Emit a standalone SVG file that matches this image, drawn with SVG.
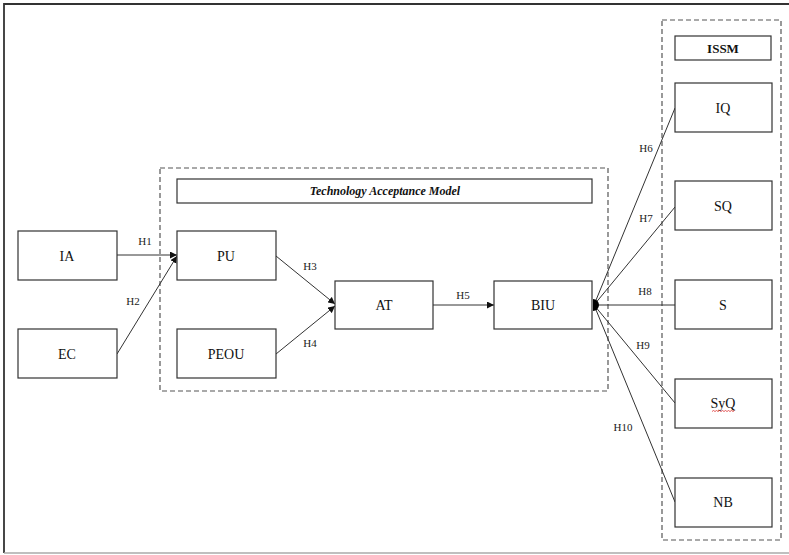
<svg xmlns="http://www.w3.org/2000/svg" width="789" height="555" viewBox="0 0 789 555">
<style>
.box{fill:#fff;stroke:#333;stroke-width:1.2}
.dash{fill:none;stroke:#555;stroke-width:1.2;stroke-dasharray:5,3}
text{font-family:'Liberation Serif','Times New Roman','DejaVu Serif',serif}
.lbl{font-size:14px;fill:#111;text-anchor:middle;dominant-baseline:central}
.h{font-size:11px;fill:#222;text-anchor:middle;dominant-baseline:central}
.ln{fill:none;stroke:#333;stroke-width:1}
</style>
<defs>
<marker id="arr" viewBox="0 0 10 10" refX="10" refY="5" markerWidth="7" markerHeight="7" orient="auto" markerUnits="userSpaceOnUse"><path d="M0,0 L10,5 L0,10 z" fill="#111"/></marker>
</defs>
<rect width="789" height="555" fill="#fff"/>
<path d="M4,553 L4,4 L789,4" fill="none" stroke="#333" stroke-width="1.8"/>
<line x1="4" y1="553" x2="789" y2="553" stroke="#aaa" stroke-width="1.5"/>

<g id="tam-group">
<rect class="dash" x="160" y="168" width="448" height="223"/>
<rect class="box" x="177" y="179" width="415" height="24"/>
<text class="lbl" x="385" y="191" font-family="Liberation Serif, serif" font-weight="bold" font-style="italic" style="font-size:12px">Technology Acceptance Model</text>
</g>
<g id="issm-group">
<rect class="dash" x="662" y="20" width="119" height="520"/>
<rect class="box" x="675" y="36" width="96" height="24"/>
<text class="lbl" x="723" y="48" font-family="Liberation Serif, serif" font-weight="bold" style="font-size:13px">ISSM</text>
</g>

<g id="connectors">
<line class="ln" x1="117" y1="255" x2="177" y2="255" marker-end="url(#arr)"/>
<line class="ln" x1="117" y1="354" x2="177" y2="256" marker-end="url(#arr)"/>
<line class="ln" x1="276" y1="256" x2="335" y2="304" marker-end="url(#arr)"/>
<line class="ln" x1="276" y1="354" x2="335" y2="306" marker-end="url(#arr)"/>
<line class="ln" x1="433" y1="305" x2="494" y2="305" marker-end="url(#arr)"/>
<line class="ln" x1="594" y1="305" x2="675" y2="108"/>
<line class="ln" x1="594" y1="305" x2="675" y2="207"/>
<line class="ln" x1="594" y1="305" x2="675" y2="305"/>
<line class="ln" x1="594" y1="305" x2="675" y2="403"/>
<line class="ln" x1="594" y1="305" x2="675" y2="502"/>
<path d="M593,299 A6,6 0 0 1 593,311 Z" fill="#000"/>
<text class="h" x="145" y="241">H1</text>
<text class="h" x="133" y="301">H2</text>
<text class="h" x="310" y="266">H3</text>
<text class="h" x="310" y="343">H4</text>
<text class="h" x="463" y="295">H5</text>
<text class="h" x="646" y="148">H6</text>
<text class="h" x="646" y="218">H7</text>
<text class="h" x="645" y="291">H8</text>
<text class="h" x="643" y="345">H9</text>
<text class="h" x="623" y="427">H10</text>
</g>

<g id="IA"><rect class="box" x="18" y="231" width="99" height="49"/><text class="lbl" x="67" y="256">IA</text></g>
<g id="EC"><rect class="box" x="18" y="329" width="99" height="49"/><text class="lbl" x="67" y="354">EC</text></g>
<g id="PU"><rect class="box" x="177" y="231" width="99" height="49"/><text class="lbl" x="226" y="256">PU</text></g>
<g id="PEOU"><rect class="box" x="177" y="329" width="99" height="49"/><text class="lbl" x="226" y="354">PEOU</text></g>
<g id="AT"><rect class="box" x="335" y="281" width="98" height="48"/><text class="lbl" x="384" y="305">AT</text></g>
<g id="BIU"><rect class="box" x="494" y="281" width="98" height="48"/><text class="lbl" x="543" y="305">BIU</text></g>
<g id="IQ"><rect class="box" x="675" y="83" width="97" height="49"/><text class="lbl" x="723" y="108">IQ</text></g>
<g id="SQ"><rect class="box" x="675" y="181" width="97" height="49"/><text class="lbl" x="723" y="206">SQ</text></g>
<g id="S"><rect class="box" x="675" y="280" width="97" height="49"/><text class="lbl" x="723" y="305">S</text></g>
<g id="SyQ"><rect class="box" x="675" y="379" width="97" height="49"/><text class="lbl" x="723" y="403">SyQ</text>
<path d="M712,411.5 l1.5,-1 l1.5,1 l1.5,-1 l1.5,1 l1.5,-1 l1.5,1 l1.5,-1 l1.5,1 l1.5,-1 l1.5,1 l1.5,-1 l1.5,1 l1.5,-1 l1.5,1 l1.5,-1" fill="none" stroke="#d33" stroke-width="0.8"/></g>
<g id="NB"><rect class="box" x="675" y="478" width="97" height="49"/><text class="lbl" x="723" y="502">NB</text></g>
</svg>
